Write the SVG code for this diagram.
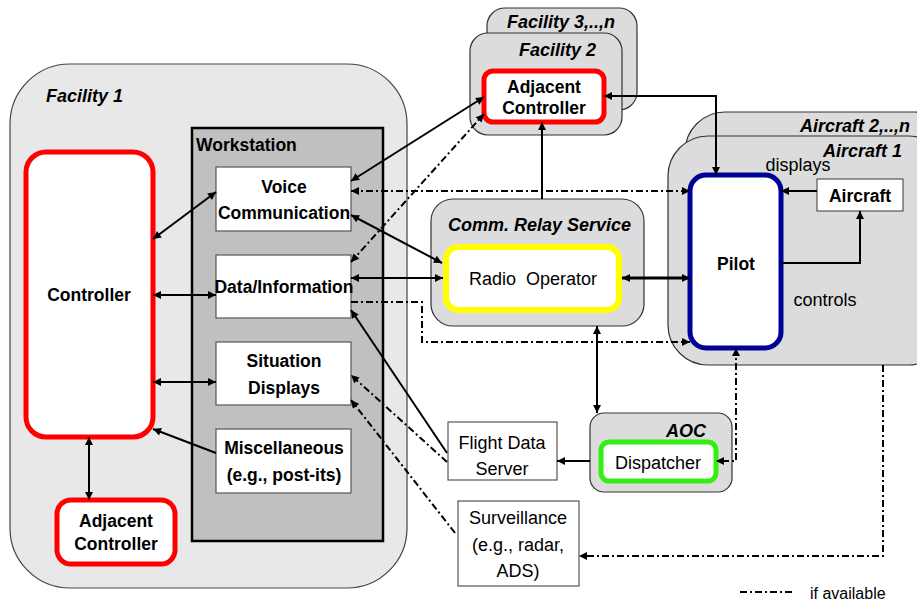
<svg xmlns="http://www.w3.org/2000/svg" width="917" height="603" viewBox="0 0 917 603">
<defs>
<marker id="ah" viewBox="0 0 10 10" refX="10" refY="5" markerWidth="9" markerHeight="8" markerUnits="userSpaceOnUse" orient="auto-start-reverse">
<path d="M0,0 L10,5 L0,10 z" fill="#000"/>
</marker>
<style>
.b{font-family:"Liberation Sans",Arial,sans-serif;font-weight:bold;font-size:17.5px;fill:#000;text-anchor:middle}
.bi{font-family:"Liberation Sans",Arial,sans-serif;font-weight:bold;font-style:italic;font-size:18px;fill:#000}
.r{font-family:"Liberation Sans",Arial,sans-serif;font-size:18px;fill:#000;text-anchor:middle}
.box{fill:#fff;stroke:#555;stroke-width:1.2}
.grp{fill:#dcdcdc;stroke:#333;stroke-width:1.2}
.red{fill:#fff;stroke:#ff0000;stroke-width:5}
.s{fill:none;stroke:#000;stroke-width:2}
.d{fill:none;stroke:#000;stroke-width:2;stroke-dasharray:7,3,2,3}
</style>
</defs>

<g id="facility1">
<rect x="10" y="64" width="397" height="524" rx="60" fill="#e8e8e8" stroke="#444" stroke-width="1.2"/>
<text class="bi" x="46" y="102">Facility 1</text>
</g>

<g id="workstation">
<rect x="192" y="128" width="191" height="413" fill="#c0c0c0" stroke="#000" stroke-width="2.5"/>
<text class="b" x="196" y="151" style="text-anchor:start">Workstation</text>
</g>

<g id="voice">
<rect class="box" x="216" y="167" width="135" height="64"/>
<text class="b" x="284" y="193">Voice</text>
<text class="b" x="284" y="219">Communication</text>
</g>

<g id="data">
<rect class="box" x="216" y="255" width="135" height="63"/>
<text class="b" x="284" y="293">Data/Information</text>
</g>

<g id="situation">
<rect class="box" x="216" y="342" width="135" height="63"/>
<text class="b" x="284" y="367">Situation</text>
<text class="b" x="284" y="394">Displays</text>
</g>

<g id="misc">
<rect class="box" x="216" y="429" width="135" height="64"/>
<text class="b" x="284" y="454">Miscellaneous</text>
<text class="b" x="284" y="481">(e.g., post-its)</text>
</g>

<g id="controller">
<rect class="red" x="26" y="152" width="127" height="285" rx="20"/>
<text class="b" x="89" y="301">Controller</text>
</g>

<g id="adjacent1">
<rect class="red" x="57" y="500" width="118" height="64" rx="14"/>
<text class="b" x="116" y="527">Adjacent</text>
<text class="b" x="116" y="550">Controller</text>
</g>

<g id="facility3n">
<rect class="grp" x="487" y="8" width="150" height="102" rx="18"/>
<text class="bi" x="507" y="28">Facility 3,..,n</text>
</g>

<g id="facility2">
<rect class="grp" x="470" y="33" width="152" height="102" rx="18"/>
<text class="bi" x="519" y="56">Facility 2</text>
</g>

<g id="adjacent2">
<rect class="red" x="484" y="71" width="120" height="51" rx="9"/>
<text class="b" x="544" y="93">Adjacent</text>
<text class="b" x="544" y="114">Controller</text>
</g>

<g id="aircraft2n">
<rect class="grp" x="685" y="112" width="270" height="240" rx="40"/>
<text class="bi" x="910" y="132" style="text-anchor:end">Aircraft 2,..,n</text>
</g>

<g id="aircraft1">
<rect class="grp" x="668" y="136" width="280" height="229" rx="40"/>
<text class="bi" x="902" y="157" style="text-anchor:end">Aircraft 1</text>
<text class="r" x="798" y="171">displays</text>
<text class="r" x="825" y="306">controls</text>
</g>

<g id="pilot">
<rect x="690" y="175" width="91" height="173" rx="16" fill="#fff" stroke="#000099" stroke-width="5"/>
<text class="b" x="736" y="270">Pilot</text>
</g>

<g id="aircraft">
<rect class="box" x="817" y="179" width="86" height="32" stroke="#333"/>
<text class="b" x="860" y="202">Aircraft</text>
</g>

<g id="commrelay">
<rect class="grp" x="431" y="199" width="213" height="127" rx="22"/>
<text class="bi" x="448" y="231">Comm. Relay Service</text>
</g>

<g id="radio">
<rect x="446" y="247" width="173" height="63" rx="12" fill="#fff" stroke="#ffff00" stroke-width="6"/>
<text class="r" x="533" y="285" xml:space="preserve">Radio  Operator</text>
</g>

<g id="flightdata">
<rect class="box" x="448" y="422" width="109" height="58" stroke="#333"/>
<text class="r" x="502" y="449">Flight Data</text>
<text class="r" x="502" y="475">Server</text>
</g>

<g id="surveillance">
<rect class="box" x="458" y="501" width="121" height="85" stroke="#333"/>
<text class="r" x="518" y="524">Surveillance</text>
<text class="r" x="518" y="551">(e.g., radar,</text>
<text class="r" x="518" y="577">ADS)</text>
</g>

<g id="aoc">
<rect class="grp" x="590" y="413" width="142" height="79" rx="14"/>
<text class="bi" x="706" y="437" style="text-anchor:end">AOC</text>
</g>

<g id="dispatcher">
<rect x="601" y="442" width="115" height="39" rx="8" fill="#fff" stroke="#33ee11" stroke-width="5"/>
<text class="r" x="658" y="469">Dispatcher</text>
</g>

<g id="legend">
<line class="d" x1="740" y1="592" x2="793" y2="592"/>
<text class="r" x="810" y="599" style="text-anchor:start;font-size:16px">if available</text>
</g>

<g id="connectors">
<line class="s" x1="153" y1="239" x2="216" y2="192" marker-start="url(#ah)" marker-end="url(#ah)"/>
<line class="s" x1="153" y1="295" x2="216" y2="295" marker-start="url(#ah)" marker-end="url(#ah)"/>
<line class="s" x1="153" y1="382" x2="216" y2="382" marker-start="url(#ah)" marker-end="url(#ah)"/>
<line class="s" x1="216" y1="453" x2="153" y2="429" marker-end="url(#ah)"/>
<line class="s" x1="89" y1="437" x2="89" y2="500" marker-start="url(#ah)" marker-end="url(#ah)"/>

<line class="s" x1="351" y1="181" x2="484" y2="97" marker-start="url(#ah)" marker-end="url(#ah)"/>
<line class="d" x1="351" y1="262" x2="484" y2="114" marker-start="url(#ah)" marker-end="url(#ah)"/>
<line class="d" x1="351" y1="191" x2="690" y2="191" marker-start="url(#ah)" marker-end="url(#ah)"/>
<line class="s" x1="351" y1="215" x2="442" y2="263" marker-start="url(#ah)" marker-end="url(#ah)"/>
<line class="s" x1="351" y1="278" x2="443" y2="278" marker-start="url(#ah)" marker-end="url(#ah)"/>
<path class="d" d="M351,302 H422 V342 H690" marker-end="url(#ah)"/>

<line class="s" x1="542" y1="199" x2="542" y2="122" marker-end="url(#ah)"/>
<path class="s" d="M604,96 H716 V175" marker-start="url(#ah)" marker-end="url(#ah)"/>
<line x1="622" y1="278" x2="690" y2="278" stroke="#000" stroke-width="3" marker-start="url(#ah)" marker-end="url(#ah)"/>

<line class="s" x1="817" y1="191" x2="781" y2="191" marker-end="url(#ah)"/>
<path class="s" d="M781,263 H860 V211" marker-end="url(#ah)"/>

<line class="s" x1="597" y1="326" x2="597" y2="413" marker-start="url(#ah)" marker-end="url(#ah)"/>
<line class="s" x1="590" y1="461" x2="557" y2="461" marker-end="url(#ah)"/>
<path class="d" d="M736,348 V461 H716" marker-start="url(#ah)" marker-end="url(#ah)"/>
<path class="d" d="M883,365 V556 H579" marker-end="url(#ah)"/>

<line class="s" x1="447" y1="453" x2="351" y2="310" marker-end="url(#ah)"/>
<line class="d" x1="447" y1="462" x2="351" y2="375" marker-end="url(#ah)"/>
<line class="d" x1="455" y1="533" x2="351" y2="400" marker-end="url(#ah)"/>
</g>
</svg>
